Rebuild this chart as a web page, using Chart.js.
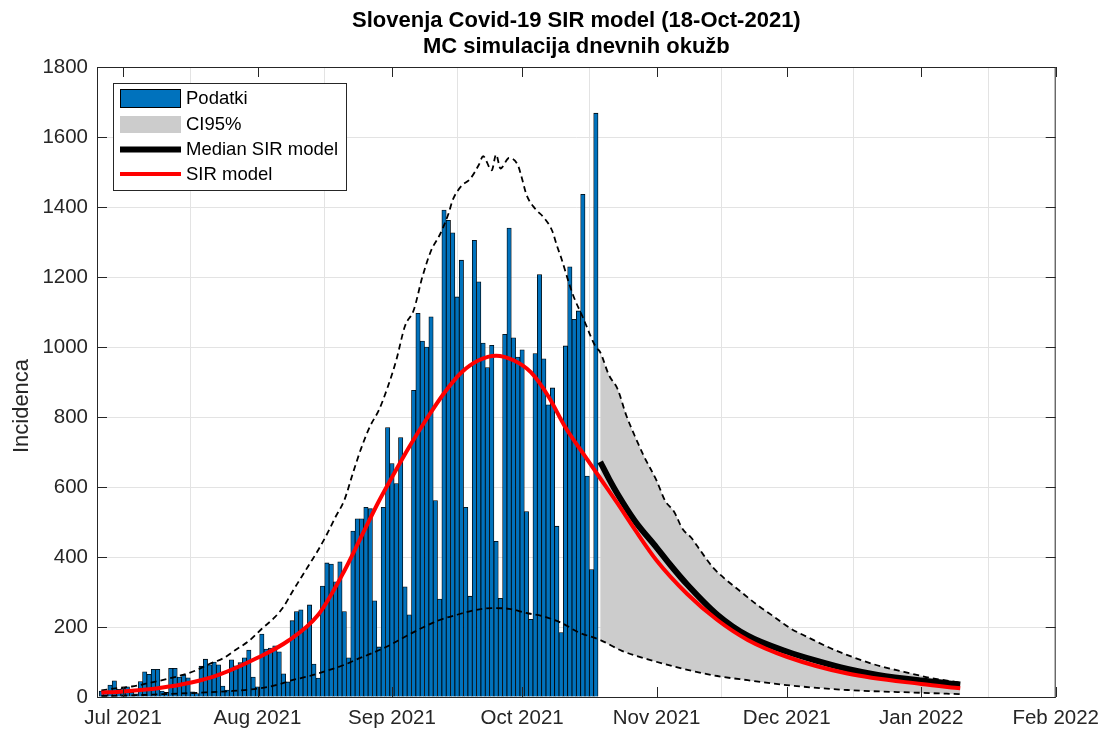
<!DOCTYPE html>
<html>
<head>
<meta charset="utf-8">
<script src="https://cdn.jsdelivr.net/npm/chart.js@4.4.0/dist/chart.umd.min.js"></script>
<style>
  html, body { margin: 0; padding: 0; background: #fff; }
</style>
</head>
<body>
<canvas id="sirChart" width="1108" height="731"></canvas>
<script>
// daily cases (Podatki), one value per day from barStart
const barStart = '2021-06-26';
const podatki = [
    17, 17, 34, 46, 22, 25, 29, 13, 9, 44, 72, 65, 79, 79, 17, 13,
    82, 82, 57, 63, 55, 15, 10, 88, 108, 92, 100, 92, 31, 20,
    106, 89, 98, 112, 134, 57, 29, 180, 137, 140, 146, 129, 66, 43,
    218, 244, 249, 197, 263, 94, 54, 317, 383, 380, 329, 386, 244, 112,
    474, 509, 509, 542, 538, 275, 143, 542, 770, 667, 610, 741, 315, 235,
    876, 1096, 1017, 1000, 1086, 561, 280, 1391, 1362, 1326, 1143, 1248, 542, 288,
    1305, 1186, 1011, 941, 1005, 445, 282, 1036, 1340, 1026, 971, 992, 530, 222,
    981, 1207, 966, 835, 883, 488, 184, 1003, 1229, 1079, 1103, 1436, 631, 364,
    1668
];

// SIR model (red)
const sirDates = ['2021-06-26', '2021-07-01', '2021-07-09', '2021-07-17', '2021-07-23', '2021-08-01',
    '2021-08-08', '2021-08-15', '2021-08-21', '2021-08-25', '2021-08-29', '2021-09-01', '2021-09-05',
    '2021-09-09', '2021-09-13', '2021-09-17', '2021-09-21', '2021-09-25', '2021-09-29', '2021-10-03',
    '2021-10-07', '2021-10-11', '2021-10-15', '2021-10-19', '2021-10-23', '2021-10-27', '2021-11-01',
    '2021-11-08', '2021-11-15', '2021-11-22', '2021-12-01', '2021-12-15', '2022-01-01', '2022-01-10'];
const sirValues = [12, 16, 25, 42, 63, 112, 160, 235, 360, 460, 560, 628, 715, 795, 868, 927, 962, 975,
    962, 928, 860, 770, 697, 625, 553, 478, 390, 295, 220, 163, 115, 67, 37, 25];

// median of the MC runs (black)
const medianDates = ['2021-10-19', '2021-10-21', '2021-10-23', '2021-10-27', '2021-11-01', '2021-11-04',
    '2021-11-08', '2021-11-15', '2021-11-22', '2021-12-01', '2021-12-08', '2021-12-15', '2021-12-22',
    '2022-01-01', '2022-01-10'];
const medianValues = [672, 624, 580, 503, 427, 380, 322, 235, 175, 130, 103, 80, 63, 47, 36];

// CI95% bounds (dashed), grey fill only after forecastStart
const forecastStart = '2021-10-19';
const ciUpperDates = ['2021-06-26', '2021-06-30', '2021-07-03', '2021-07-07', '2021-07-11', '2021-07-15',
    '2021-07-18', '2021-07-21', '2021-07-24', '2021-07-27', '2021-07-30', '2021-08-02', '2021-08-05',
    '2021-08-07', '2021-08-09', '2021-08-11', '2021-08-13', '2021-08-15', '2021-08-17', '2021-08-19',
    '2021-08-21', '2021-08-23', '2021-08-25', '2021-08-27', '2021-08-29', '2021-08-31', '2021-09-02',
    '2021-09-04', '2021-09-06', '2021-09-08', '2021-09-10', '2021-09-12', '2021-09-14', '2021-09-15',
    '2021-09-17', '2021-09-19', '2021-09-21', '2021-09-22', '2021-09-24', '2021-09-25', '2021-09-26',
    '2021-09-28', '2021-09-30', '2021-10-01', '2021-10-02', '2021-10-04', '2021-10-06', '2021-10-08',
    '2021-10-09', '2021-10-10', '2021-10-12', '2021-10-13', '2021-10-15', '2021-10-16', '2021-10-17',
    '2021-10-18', '2021-10-19', '2021-10-21', '2021-10-23', '2021-10-25', '2021-10-27', '2021-10-29',
    '2021-11-01', '2021-11-03', '2021-11-05', '2021-11-07', '2021-11-09', '2021-11-11', '2021-11-14',
    '2021-11-17', '2021-11-20', '2021-11-24', '2021-11-28', '2021-12-02', '2021-12-06', '2021-12-11',
    '2021-12-16', '2021-12-22', '2021-12-28', '2022-01-03', '2022-01-10'];
const ciUpper = [19, 26, 30, 40, 51, 64, 77, 95, 110, 135, 160, 195, 228, 258, 300, 340, 380, 420, 465, 515,
    562, 640, 714, 775, 820, 885, 963, 1060, 1105, 1200, 1275, 1320, 1380, 1420, 1460, 1480, 1520, 1545,
    1505, 1550, 1510, 1540, 1520, 1480, 1435, 1395, 1370, 1330, 1290, 1255, 1175, 1140, 1085, 1055, 1025,
    1000, 985, 920, 880, 805, 745, 690, 618, 560, 530, 480, 455, 420, 370, 335, 305, 265, 230, 195, 170,
    140, 115, 90, 72, 55, 41];
const ciLowerDates = ['2021-06-26', '2021-07-01', '2021-07-10', '2021-07-20', '2021-07-26', '2021-08-01',
    '2021-08-05', '2021-08-09', '2021-08-13', '2021-08-17', '2021-08-21', '2021-08-24', '2021-08-27',
    '2021-08-31', '2021-09-04', '2021-09-08', '2021-09-12', '2021-09-16', '2021-09-20', '2021-09-24',
    '2021-09-28', '2021-10-02', '2021-10-06', '2021-10-10', '2021-10-14', '2021-10-19', '2021-10-24',
    '2021-10-31', '2021-11-07', '2021-11-15', '2021-11-22', '2021-12-01', '2021-12-15', '2022-01-01',
    '2022-01-10'];
const ciLower = [3, 4, 8, 13, 17, 24, 33, 48, 60, 75, 92, 108, 123, 145, 172, 198, 220, 235, 248, 254,
    252, 240, 230, 212, 185, 163, 132, 104, 81, 60, 48, 34, 20, 12, 8];

// axis
const axisStart = '2021-06-25';
const axisEnd = '2022-02-01';
const monthTicks = ['2021-07-01', '2021-08-01', '2021-09-01', '2021-10-01', '2021-11-01', '2021-12-01',
    '2022-01-01', '2022-02-01'];
const monthLabels = ['Jul 2021', 'Aug 2021', 'Sep 2021', 'Oct 2021', 'Nov 2021', 'Dec 2021', 'Jan 2022', 'Feb 2022'];
const yMax = 1800, yStep = 200;

const FONT = '"Liberation Sans", Arial, Helvetica, sans-serif';
const INK = '#262626';

function day(s) {
    const [y, m, d] = s.split('-').map(Number);
    return (Date.UTC(y, m - 1, d) - Date.UTC(2021, 6, 1)) / 86400000;
}
const pts = (dates, vals) => dates.map((d, i) => ({ x: day(d), y: vals[i] }));

const barData = podatki.map((v, i) => ({ x: day(barStart) + i, y: v }));
const upperPts = pts(ciUpperDates, ciUpper);
const lowerPts = pts(ciLowerDates, ciLower);
const fc = day(forecastStart);

// box, inward ticks, titles, legend
const matlabLook = {
    id: 'matlabLook',
    afterDraw(chart) {
        const { ctx, chartArea: a, scales } = chart;
        ctx.save();
        ctx.strokeStyle = INK;
        ctx.lineWidth = 1;
        ctx.strokeRect(a.left + 0.5, a.top + 0.5, a.right - a.left - 1, a.bottom - a.top);
        ctx.beginPath();
        for (let v = 0; v <= yMax; v += yStep) {
            const y = Math.round(scales.y.getPixelForValue(v)) + 0.5;
            ctx.moveTo(a.left, y); ctx.lineTo(a.left + 10, y);
            ctx.moveTo(a.right, y); ctx.lineTo(a.right - 10, y);
        }
        monthTicks.forEach(s => {
            const x = Math.round(scales.x.getPixelForValue(day(s))) + 0.5;
            ctx.moveTo(x, a.bottom); ctx.lineTo(x, a.bottom - 10);
            ctx.moveTo(x, a.top); ctx.lineTo(x, a.top + 10);
        });
        ctx.stroke();

        // titles
        const cx = (a.left + a.right) / 2;
        ctx.fillStyle = '#000';
        ctx.textAlign = 'center';
        ctx.textBaseline = 'middle';
        ctx.font = 'bold 22px ' + FONT;
        ctx.fillText('Slovenja Covid-19 SIR model (18-Oct-2021)', cx, 21);
        ctx.fillText('MC simulacija dnevnih okužb', cx, 47);

        ctx.save();
        ctx.translate(22, (a.top + a.bottom) / 2 + 24);
        ctx.rotate(-Math.PI / 2);
        ctx.fillStyle = INK;
        ctx.font = '22px ' + FONT;
        ctx.fillText('Incidenca', 0, 0);
        ctx.restore();

        // legend
        const lx = 113, ly = 83, lw = 233, lh = 107;
        ctx.fillStyle = '#fff';
        ctx.fillRect(lx, ly, lw, lh);
        ctx.strokeStyle = INK;
        ctx.strokeRect(lx + 0.5, ly + 0.5, lw, lh);
        ctx.fillStyle = '#0072bd';
        ctx.fillRect(120, 89, 60, 18);
        ctx.strokeStyle = '#000';
        ctx.strokeRect(120.5, 89.5, 60, 18);
        ctx.fillStyle = '#cccccc';
        ctx.fillRect(120, 116, 61, 17);
        ctx.lineWidth = 6;
        ctx.beginPath(); ctx.moveTo(120, 149.5); ctx.lineTo(181, 149.5); ctx.stroke();
        ctx.strokeStyle = '#ff0000';
        ctx.lineWidth = 4;
        ctx.beginPath(); ctx.moveTo(120, 174); ctx.lineTo(181, 174); ctx.stroke();
        ctx.fillStyle = '#000';
        ctx.textAlign = 'left';
        ctx.font = '18.5px ' + FONT;
        ctx.fillText('Podatki', 186, 99);
        ctx.fillText('CI95%', 186, 125);
        ctx.fillText('Median SIR model', 186, 150);
        ctx.fillText('SIR model', 186, 175);
        ctx.restore();
    }
};

const lineStyle = { pointRadius: 0, pointHoverRadius: 0, fill: false };

new Chart(document.getElementById('sirChart'), {
    type: 'bar',
    data: {
        datasets: [
            { type: 'line', label: 'SIR model', data: pts(sirDates, sirValues), borderColor: '#ff0000',
              borderWidth: 4, cubicInterpolationMode: 'monotone', order: 0, ...lineStyle },
            { type: 'line', label: 'Median SIR model', data: pts(medianDates, medianValues), borderColor: '#000',
              borderWidth: 6, cubicInterpolationMode: 'monotone', order: 1, ...lineStyle },
            { type: 'line', label: 'CI upper', data: upperPts, borderColor: '#000', borderWidth: 1.8,
              borderDash: [6, 4], cubicInterpolationMode: 'monotone', order: 2, ...lineStyle },
            { type: 'line', label: 'CI lower', data: lowerPts, borderColor: '#000', borderWidth: 1.8,
              borderDash: [6, 4], cubicInterpolationMode: 'monotone', order: 2, ...lineStyle },
            { type: 'line', label: 'CI95%', data: upperPts.filter(p => p.x >= fc), borderWidth: 0,
              backgroundColor: '#cccccc', cubicInterpolationMode: 'monotone', order: 3,
              pointRadius: 0, fill: '+1' },
            { type: 'line', label: 'CI95% lo', data: lowerPts.filter(p => p.x >= fc), borderWidth: 0,
              cubicInterpolationMode: 'monotone', order: 3, ...lineStyle },
            { type: 'bar', label: 'Podatki', data: barData, backgroundColor: '#0072bd', borderColor: '#000',
              borderWidth: 0.8, barPercentage: 1, categoryPercentage: 1, order: 4 }
        ]
    },
    options: {
        responsive: false,
        animation: false,
        layout: { padding: { left: 0, top: 67, right: 46, bottom: 0 } },
        plugins: { legend: { display: false }, title: { display: false }, tooltip: { enabled: false } },
        scales: {
            x: {
                type: 'linear',
                min: day(axisStart), max: day(axisEnd),
                offset: false,
                afterBuildTicks: s => { s.ticks = monthTicks.map(d => ({ value: day(d) })); },
                afterFit: s => { s.height = 34; },
                ticks: {
                    autoSkip: false, maxRotation: 0, padding: 9, color: INK,
                    font: { family: FONT, size: 20.5 },
                    callback: v => monthLabels[monthTicks.findIndex(d => day(d) === v)]
                },
                grid: { color: '#e3e3e3', drawTicks: false },
                border: { display: false }
            },
            y: {
                min: 0, max: yMax,
                afterFit: s => { s.width = 97; },
                ticks: { stepSize: yStep, padding: 9, color: INK, font: { family: FONT, size: 20.5 },
                         callback: v => String(v) },
                grid: { color: '#e3e3e3', drawTicks: false },
                border: { display: false }
            }
        }
    },
    plugins: [matlabLook]
});
</script>
</body>
</html>
